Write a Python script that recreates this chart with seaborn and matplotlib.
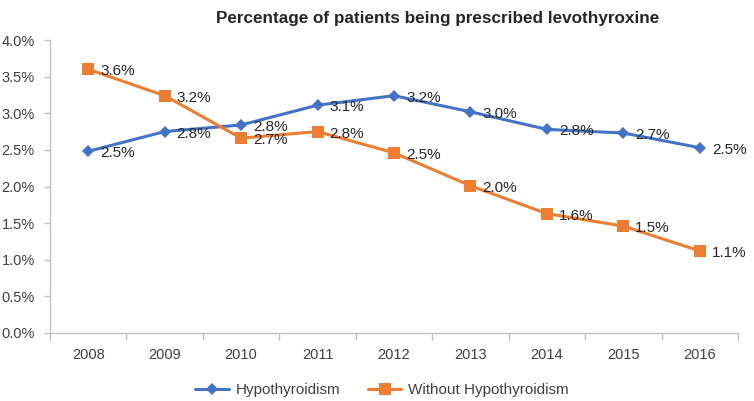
import matplotlib
matplotlib.use("Agg")
import matplotlib.pyplot as plt
import seaborn as sns
import pandas as pd
import numpy as np
from matplotlib.ticker import FuncFormatter, MultipleLocator, FixedLocator, NullFormatter
from matplotlib.lines import Line2D

years = ["2008", "2009", "2010", "2011", "2012", "2013", "2014", "2015", "2016"]
hypothyroidism = [2.48, 2.75, 2.84, 3.11, 3.24, 3.02, 2.78, 2.73, 2.53]
without_hypothyroidism = [3.60, 3.24, 2.66, 2.75, 2.46, 2.01, 1.63, 1.46, 1.12]
series_names = ["Hypothyroidism", "Without Hypothyroidism"]
title = "Percentage of patients being prescribed levothyroxine"

sns.set_theme(style="white")
plt.rcParams["font.family"] = ["Liberation Sans", "DejaVu Sans"]

BLUE = "#4472C4"
ORANGE = "#ED7D31"
TEXT = "#404040"
AXIS = "#BFBFBF"

fig = plt.figure(figsize=(7.54, 4.01), dpi=100)
ax = fig.add_axes([50 / 754, 1 - 333 / 401, (738 - 50) / 754, (333 - 40) / 401])

pos = np.arange(len(years))
df = pd.DataFrame({"pos": np.concatenate([pos, pos]),
                   "value": hypothyroidism + without_hypothyroidism,
                   "series": [series_names[0]] * len(years) + [series_names[1]] * len(years)})

sns.lineplot(data=df, x="pos", y="value", hue="series", style="series",
             palette={series_names[0]: BLUE, series_names[1]: ORANGE},
             markers={series_names[0]: "D", series_names[1]: "s"},
             dashes=False, linewidth=2.2, markersize=7, markeredgewidth=0,
             legend=False, ax=ax)
for ln in ax.get_lines():
    if ln.get_marker() == "D":
        ln.set_markersize(6)
    else:
        ln.set_markersize(8)

for vals in (hypothyroidism, without_hypothyroidism):
    for x, v in zip(pos, vals):
        ax.annotate(f"{v:.1f}%", (x, v), xytext=(12, -2), textcoords="offset pixels",
                    ha="left", va="center", fontsize=11, color="#262626")

ax.set_xlim(-0.5, len(years) - 0.5)
ax.set_ylim(0, 4.0)
ax.yaxis.set_major_locator(MultipleLocator(0.5))
ax.yaxis.set_major_formatter(FuncFormatter(lambda v, p: f"{v:.1f}%"))
ax.set_xticks(pos)
ax.set_xticklabels(years)
ax.xaxis.set_minor_locator(FixedLocator(np.arange(-0.5, len(years), 1.0)))
ax.xaxis.set_minor_formatter(NullFormatter())
ax.tick_params(axis="x", which="major", length=0, pad=11, labelsize=10.5, labelcolor=TEXT)
ax.tick_params(axis="x", which="minor", length=5, width=1, color=AXIS, direction="out", bottom=True)
ax.tick_params(axis="y", which="major", length=4, width=1, color=AXIS, direction="out", left=True,
               pad=7, labelsize=10.5, labelcolor=TEXT)
ax.set_xlabel("")
ax.set_ylabel("")
for s in ["top", "right"]:
    ax.spines[s].set_visible(False)
for s in ["left", "bottom"]:
    ax.spines[s].set_color(AXIS)
    ax.spines[s].set_linewidth(1)
ax.grid(False)

fig.text(438 / 754, 1 - 19 / 401, title, ha="center", va="center",
         fontsize=12.3, fontweight="bold", color="#262626")

handles = [Line2D([0], [0], color=BLUE, marker="D", markersize=6, linewidth=2.2, markeredgewidth=0),
           Line2D([0], [0], color=ORANGE, marker="s", markersize=8, linewidth=2.2, markeredgewidth=0)]
fig.legend(handles, series_names, loc="center", bbox_to_anchor=(382 / 754, 1 - 390 / 401),
           ncol=2, frameon=False, fontsize=11, handlelength=2.2, handletextpad=0.45,
           columnspacing=1.8, labelcolor=TEXT, borderaxespad=0, borderpad=0)

fig.savefig("out.png", dpi=100)
